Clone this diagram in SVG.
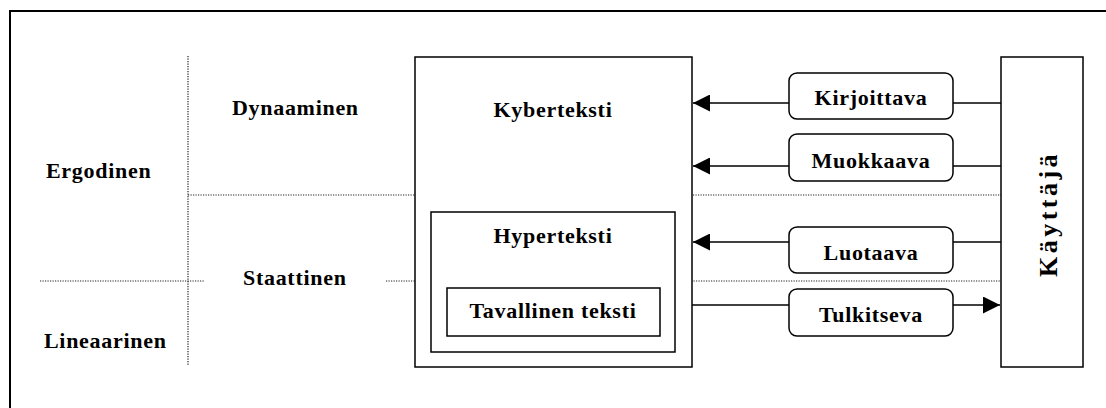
<svg xmlns="http://www.w3.org/2000/svg" width="1106" height="408" viewBox="0 0 1106 408">
  <style>
    .lbl { font-family: "Liberation Serif", "Times New Roman", serif; font-weight: bold; font-size: 22px; letter-spacing: 0.7px; fill: #000; }
    .mid { text-anchor: middle; }
    .box { fill: #fff; stroke: #000; stroke-width: 1.5; }
    .dot { fill: none; stroke: #222; stroke-width: 1.2; stroke-dasharray: 1.2 1.3; }
    .line { fill: none; stroke: #000; stroke-width: 1.5; }
  </style>
  <defs>
    <marker id="arrow" viewBox="0 0 10 10" refX="10" refY="5" markerWidth="17" markerHeight="17" markerUnits="userSpaceOnUse" orient="auto">
      <path d="M0,0 L10,5 L0,10 Z" fill="#000"/>
    </marker>
  </defs>

  <rect width="1106" height="408" fill="#fff"/>
  <!-- outer frame (open on the right and bottom) -->
  <path d="M10,408 V11 H1106" fill="none" stroke="#000" stroke-width="2"/>

  <!-- dotted grid -->
  <g id="grid">
    <line class="dot" x1="188" y1="56" x2="188" y2="366"/>
    <line class="dot" x1="188" y1="195" x2="1001" y2="195"/>
    <line class="dot" x1="40" y1="281" x2="204" y2="281"/>
    <line class="dot" x1="386" y1="281" x2="1001" y2="281"/>
  </g>

  <!-- axis labels -->
  <g id="labels">
    <text class="lbl" x="232" y="115">Dynaaminen</text>
    <text class="lbl" x="46" y="178">Ergodinen</text>
    <text class="lbl" x="243" y="285">Staattinen</text>
    <text class="lbl" x="44" y="348">Lineaarinen</text>
  </g>

  <g id="kyberteksti">
    <rect class="box" x="415" y="57" width="277" height="310"/>
    <text class="lbl mid" x="553" y="117">Kyberteksti</text>
  </g>
  <g id="hyperteksti">
    <rect class="box" x="431" y="212" width="244" height="140" stroke-width="1.2"/>
    <text class="lbl mid" x="553" y="243">Hyperteksti</text>
  </g>
  <g id="tavallinen">
    <rect class="box" x="447" y="288" width="213" height="48" stroke-width="1.2"/>
    <text class="lbl mid" x="553" y="318">Tavallinen teksti</text>
  </g>

  <g id="kayttaja">
    <rect class="box" x="1001" y="57" width="82" height="310"/>
    <text class="lbl mid" transform="translate(1057,214) rotate(-90)" x="0" y="0" style="font-size:26px; letter-spacing:3.5px">Käyttäjä</text>
  </g>

  <g id="connectors">
    <line class="line" x1="1001" y1="103" x2="953" y2="103"/>
    <line class="line" x1="789" y1="103" x2="693" y2="103" marker-end="url(#arrow)"/>
    <line class="line" x1="1001" y1="166" x2="953" y2="166"/>
    <line class="line" x1="789" y1="166" x2="693" y2="166" marker-end="url(#arrow)"/>
    <line class="line" x1="1001" y1="242" x2="953" y2="242"/>
    <line class="line" x1="789" y1="242" x2="693" y2="242" marker-end="url(#arrow)"/>
    <line class="line" x1="692" y1="305" x2="789" y2="305"/>
    <line class="line" x1="953" y1="305" x2="1000" y2="305" marker-end="url(#arrow)"/>
  </g>

  <g id="kirjoittava">
    <rect class="box" x="789" y="73" width="164" height="46" rx="8"/>
    <text class="lbl mid" x="871" y="105">Kirjoittava</text>
  </g>
  <g id="muokkaava">
    <rect class="box" x="789" y="134" width="164" height="47" rx="8"/>
    <text class="lbl mid" x="871" y="168">Muokkaava</text>
  </g>
  <g id="luotaava">
    <rect class="box" x="789" y="227" width="164" height="46" rx="8"/>
    <text class="lbl mid" x="871" y="260">Luotaava</text>
  </g>
  <g id="tulkitseva">
    <rect class="box" x="789" y="289" width="164" height="47" rx="8"/>
    <text class="lbl mid" x="871" y="322">Tulkitseva</text>
  </g>
</svg>
